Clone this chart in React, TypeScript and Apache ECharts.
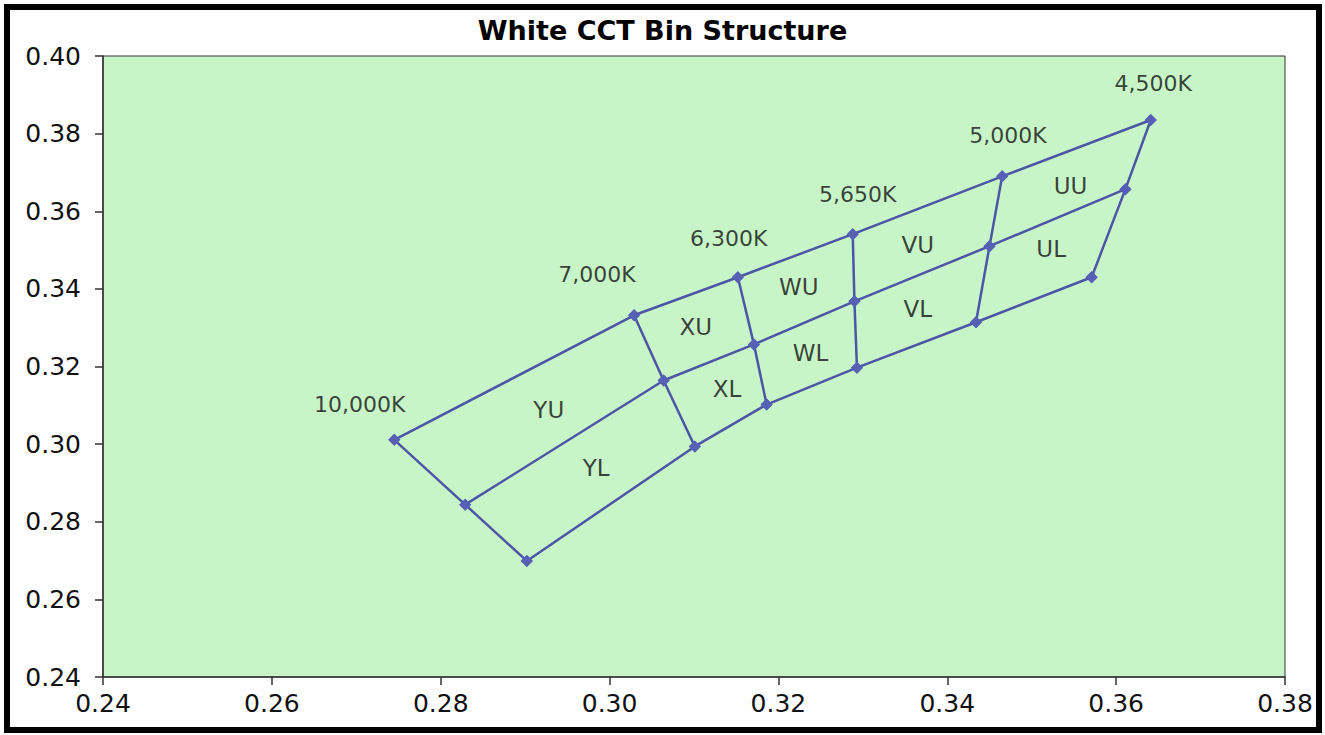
import React, { useEffect, useRef } from "react";
import * as echarts from "echarts";

// CCT boundary points (x, y) — top, middle and bottom rows
const cctNames = ["10,000K", "7,000K", "6,300K", "5,650K", "5,000K", "4,500K"];
const topRow: [number, number][] = [
  [0.2745, 0.3011], [0.3029, 0.3332], [0.3152, 0.3430], [0.3288, 0.3541], [0.3465, 0.3690], [0.3641, 0.3835],
];
const midRow: [number, number][] = [
  [0.2829, 0.2844], [0.3064, 0.3164], [0.3171, 0.3257], [0.3290, 0.3368], [0.3450, 0.3510], [0.3611, 0.3657],
];
const botRow: [number, number][] = [
  [0.2902, 0.2699], [0.3101, 0.2994], [0.3186, 0.3102], [0.3293, 0.3197], [0.3434, 0.3314], [0.3571, 0.3430],
];

// CCT label positions
const cctLabelPos: [number, number][] = [
  [0.2704, 0.3103], [0.2985, 0.3438], [0.3141, 0.3531], [0.3294, 0.3642], [0.3472, 0.3794], [0.3644, 0.3928],
];

// Bin names and their label positions
const binNames = ["YU", "YL", "XU", "XL", "WU", "WL", "VU", "VL", "UU", "UL"];
const binLabelPos: [number, number][] = [
  [0.2928, 0.3089], [0.2984, 0.2939], [0.3102, 0.3301], [0.3139, 0.3141], [0.3224, 0.3404],
  [0.3238, 0.3236], [0.3365, 0.3512], [0.3365, 0.3347], [0.3546, 0.3665], [0.3523, 0.3502],
];

const xTicks = { min: 0.24, max: 0.38, interval: 0.02 };
const yTicks = { min: 0.24, max: 0.40, interval: 0.02 };

const LINE = "#4a56a6";
const MARK = "#5660b4";
const FONT = "DejaVu Sans";

export default function App() {
  const ref = useRef<HTMLDivElement>(null);
  useEffect(() => {
    if (!ref.current) return;
    const chart = echarts.init(ref.current, undefined, { renderer: "svg" });
    const lineSeries = (data: [number, number][]) => ({
      type: "line",
      data,
      symbol: "diamond",
      symbolSize: 12,
      showAllSymbol: true,
      lineStyle: { color: LINE, width: 2.5 },
      itemStyle: { color: MARK },
      z: 3,
    });
    const cross = cctNames.map((_, i) => lineSeries([topRow[i], midRow[i], botRow[i]]));
    chart.setOption({
      animation: false,
      backgroundColor: "#ffffff",
      title: {
        text: "White CCT Bin Structure",
        left: "center",
        top: 12,
        textStyle: { fontFamily: FONT, fontWeight: "bold", fontSize: 27, color: "#000" },
      },
      grid: {
        left: 103,
        right: 40,
        top: 56,
        bottom: 58,
        show: true,
        backgroundColor: "#c8f5c8",
        borderColor: "#333",
        borderWidth: 1,
      },
      xAxis: {
        type: "value",
        min: xTicks.min,
        max: xTicks.max,
        interval: xTicks.interval,
        axisLine: { show: true, lineStyle: { color: "#333", width: 1.5 } },
        axisTick: { show: true, length: 8, lineStyle: { color: "#333", width: 1.5 } },
        splitLine: { show: false },
        axisLabel: {
          formatter: (v: number) => v.toFixed(2),
          fontFamily: FONT,
          fontSize: 25,
          color: "#111",
          margin: 14,
        },
      },
      yAxis: {
        type: "value",
        min: yTicks.min,
        max: yTicks.max,
        interval: yTicks.interval,
        axisLine: { show: true, lineStyle: { color: "#333", width: 1.5 } },
        axisTick: { show: true, length: 8, lineStyle: { color: "#333", width: 1.5 } },
        splitLine: { show: false },
        axisLabel: {
          formatter: (v: number) => v.toFixed(2),
          fontFamily: FONT,
          fontSize: 25,
          color: "#111",
          margin: 22,
        },
      },
      series: [
        lineSeries(topRow),
        lineSeries(midRow),
        lineSeries(botRow),
        ...cross,
        {
          type: "scatter",
          symbolSize: 0,
          data: cctNames.map((n, i) => ({ name: n, value: cctLabelPos[i] })),
          label: {
            show: true,
            position: "inside",
            formatter: "{b}",
            fontFamily: FONT,
            fontSize: 22,
            color: "#111",
          },
          z: 5,
        },
        {
          type: "scatter",
          symbolSize: 0,
          data: binNames.map((n, i) => ({ name: n, value: binLabelPos[i] })),
          label: {
            show: true,
            position: "inside",
            formatter: "{b}",
            fontFamily: FONT,
            fontSize: 23,
            color: "#111",
          },
          z: 5,
        },
      ],
      graphic: [
        {
          type: "rect",
          shape: { x: 7, y: 7, width: 1312, height: 723 },
          style: { fill: "none", stroke: "#000", lineWidth: 6 },
          silent: true,
          z: 100,
        },
      ],
    });
    return () => chart.dispose();
  }, []);
  return (
    <div
      ref={ref}
      style={{ position: "fixed", left: 0, top: 0, width: 1325, height: 735 }}
    />
  );
}
